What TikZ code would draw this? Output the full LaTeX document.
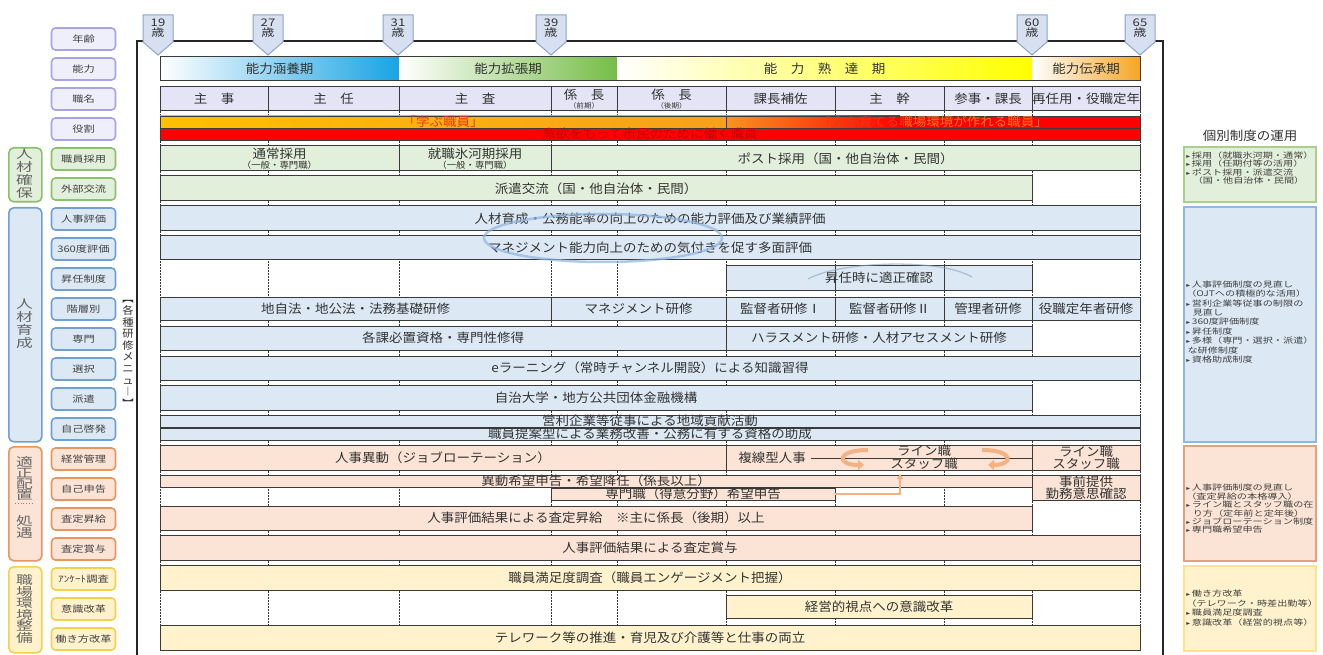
\documentclass[tikz,border=0pt]{standalone}
\usepackage{fontspec}
\setmainfont{Noto Sans CJK JP}
\newfontfamily\jpA[FakeStretch=1.08]{Noto Sans CJK JP}
\newfontfamily\dvsans{DejaVu Sans}
\usetikzlibrary{arrows.meta}
\newcommand\fMain{\jpA\fontsize{12.5}{14}\selectfont}
\newcommand\fSm{\jpA\fontsize{8.7}{9.5}\selectfont}
\newcommand\fTiny{\jpA\fontsize{7}{8}\selectfont}
\newcommand\fLab{\rmfamily\fontsize{9}{10}\selectfont}
\newcommand\fGrp{\rmfamily\fontsize{12}{12.5}\selectfont}
\newcommand\fRp{\rmfamily\fontsize{7.8}{9.4}\selectfont}
\newcommand\fAge{\rmfamily\fontsize{10.5}{10.5}\selectfont}
\newcommand\bul{{\dvsans\fontsize{6}{7}\selectfont ▸}\,}
\newcommand\bx[7]{\node[#6,anchor=north west,minimum width={(#4-#2)*1pt},minimum height={(#5-#3)*1pt}] (#1) at (#2,#3) {#7};}
\newcommand\sxn[5]{\begin{scope}[shift={#2}]\node[#3,xscale=#4,transform shape] (#1) at (0,0) {#5};\end{scope}}
\newcommand\lbl[5]{\node[lab,draw=#2,fill=#3] (#1) at (83.5,#4) {};\sxn{#1t}{(83.5,#4)}{ltxt}{1.25}{#5}}
\definecolor{txt}{HTML}{333333}
\definecolor{rowc}{HTML}{3A3A3A}
\definecolor{lav}{HTML}{E4E4F6}
\definecolor{gfill}{HTML}{E2EFDA}
\definecolor{bfill}{HTML}{DCE9F5}
\definecolor{ofill}{HTML}{FBE4D6}
\definecolor{yfill}{HTML}{FFF2CC}
\definecolor{pbord}{HTML}{A9A3E6}
\definecolor{pfill}{HTML}{EFEFFB}
\definecolor{gbord}{HTML}{8DC06B}
\definecolor{bbord}{HTML}{6FA0D2}
\definecolor{obord}{HTML}{E8955E}
\definecolor{ybord}{HTML}{F5D04A}
\definecolor{mkfill}{HTML}{D6E0F0}
\definecolor{mkbord}{HTML}{8CA4CC}
\definecolor{oarr}{HTML}{F4B183}
\definecolor{abBlue}{HTML}{19A3E3}
\definecolor{abGreen}{HTML}{76BD48}
\definecolor{abYellow}{HTML}{FFFF00}
\definecolor{abOrange}{HTML}{F5A524}
\definecolor{roY}{HTML}{FFC000}
\definecolor{roO}{HTML}{F7A01C}
\definecolor{roO2}{HTML}{F79420}
\definecolor{roRed}{HTML}{FF0000}
\definecolor{roT1}{HTML}{E8381A}
\definecolor{roT2}{HTML}{F47A20}
\definecolor{darkred}{HTML}{C00000}
\definecolor{ring}{HTML}{8DB3E2}
\definecolor{rgb}{HTML}{A9CF8E}
\definecolor{rbb}{HTML}{8FB7E0}
\definecolor{rob}{HTML}{E3A27A}
\definecolor{ryb}{HTML}{FFE38A}
\tikzset{
  rb/.style={draw=rowc,line width=1pt,inner sep=0pt,outer sep=0pt,align=center,font=\fMain,text=txt},
  nb/.style={draw=rowc,line width=0.7pt,inner sep=0pt,outer sep=0pt},
  ab/.style={draw=none,inner sep=0pt,outer sep=0pt,font=\fMain,text=txt},
  rt/.style={inner sep=0pt,font=\fMain},
  ttxt/.style={inner sep=0pt,font=\fMain,text=txt,align=center},
  rowline/.style={draw=rowc,line width=1pt},
  gridl/.style={draw=black!80,line width=0.7pt,dash pattern=on 2pt off 1pt},
  lab/.style={rounded corners=4pt,line width=1.6pt,minimum width=64pt,minimum height=22pt,inner sep=0pt},
  ltxt/.style={inner sep=0pt,font=\fLab,text=black!75},
  grp/.style={rounded corners=5pt,line width=1.6pt,inner sep=0pt},
  gtxt/.style={inner sep=0pt,align=center,font=\fGrp,text=black!60},
  rpb/.style={line width=1.6pt,inner sep=0pt},
  rptxt/.style={inner sep=0pt,font=\fRp,text=black!75,anchor=west,align=left},
  marker/.style={fill=mkfill,draw=mkbord,line width=1pt},
  agetxt/.style={inner sep=0pt,align=center,font=\fAge,text=black!80},
  oarrow/.style={draw=oarr,line width=4pt,-{Triangle[length=6pt,width=10pt]}},
  oline/.style={draw=oarr,line width=1.6pt,-{Triangle[length=5pt,width=6pt]}}
}
\begin{document}
\begin{tikzpicture}[x=1pt,y=-1pt]
\useasboundingbox (0,0) rectangle (1323,655);
\fill[white] (0,0) rectangle (1323,655);
% frame
\draw[line width=1.6pt,black!85] (137,655) -- (137,41) -- (1163,41) -- (1163,655);
% age markers
\foreach \cx/\age in {158/19,268/27,398/31,551/39,1032/60,1140/65}{
  \filldraw[marker] (\cx-15,15) -- (\cx+15,15) -- (\cx+15,42) -- (\cx,55) -- (\cx-15,42) -- cycle;
  \sxn{age\age}{(\cx,28)}{agetxt}{1.25}{\age\\歳}
}
% grid
\foreach \gx in {160,268,399,551,617,726,835,944,1032,1140}{
  \draw[gridl] (\gx,111) -- (\gx,650);
}
% ability row
\bx{a1}{160}{57}{399}{81}{ab,left color=white,right color=abBlue}{能力涵養期}
\bx{a2}{399}{57}{617}{81}{ab,left color=white,right color=abGreen}{能力拡張期}
\bx{a3}{617}{57}{1032}{81}{ab,left color=white,right color=abYellow}{能　力　熟　達　期}
\bx{a4}{1032}{57}{1140}{81}{ab,left color=white,right color=abOrange}{能力伝承期}
\draw[rowline] (a1.north west) rectangle (a4.south east);
% title row
\bx{t1}{160}{87}{268}{111}{rb,fill=lav}{主　事}
\bx{t2}{268}{87}{399}{111}{rb,fill=lav}{主　任}
\bx{t3}{399}{87}{551}{111}{rb,fill=lav}{主　査}
\bx{t4}{551}{87}{617}{111}{rb,fill=lav}{係　長\\[-5pt]{\fTiny（前期）}}
\bx{t5}{617}{87}{726}{111}{rb,fill=lav}{係　長\\[-5pt]{\fTiny（後期）}}
\bx{t6}{726}{87}{835}{111}{rb,fill=lav}{課長補佐}
\bx{t7}{835}{87}{944}{111}{rb,fill=lav}{主　幹}
\bx{t8}{944}{87}{1032}{111}{rb,fill=lav}{参事・課長}
\bx{t9}{1032}{87}{1140}{111}{rb,fill=lav}{再任用・役職定年}
% role rows
\bx{r1}{160}{116}{726}{128}{nb,left color=roY,right color=roO}{}
\bx{r2}{726}{116}{900}{128}{draw=none,inner sep=0pt,outer sep=0pt,left color=roO2,right color=roRed}{}
\bx{r2b}{900}{116}{1140}{128}{draw=none,inner sep=0pt,outer sep=0pt,fill=roRed}{}
\draw[draw=rowc,line width=0.7pt] (r2.north west) rectangle (r2b.south east);
\bx{r3}{160}{128}{1140}{140}{nb,fill=roRed}{}
\node[rt,text=roT1] (r1t) at (r1.center) {「学ぶ職員」};
\coordinate (r2c) at (933,122);
\begin{scope}
  \clip (726,110) rectangle (905,134);
  \node[rt,text=roT1] (r2ta) at (r2c) {「人を育てる職場環境が作れる職員」};
\end{scope}
\begin{scope}
  \clip (905,110) rectangle (1140,134);
  \node[rt,text=roT2] (r2tb) at (r2c) {「人を育てる職場環境が作れる職員」};
\end{scope}
\node[rt,text=darkred] (r3t) at (r3.center) {意欲をもって市民のために働く職員};
% hiring
\bx{h1}{160}{146}{399}{171}{rb,fill=gfill}{通常採用\\[-4pt]{\fSm（一般・専門職）}}
\bx{h2}{399}{146}{551}{171}{rb,fill=gfill}{就職氷河期採用\\[-4pt]{\fSm（一般・専門職）}}
\bx{h3}{551}{146}{1140}{171}{rb,fill=gfill}{ポスト採用（国・他自治体・民間）}
\bx{e1}{160}{176}{1032}{201}{rb,fill=gfill}{派遣交流（国・他自治体・民間）}
% evaluation
\bx{v1}{160}{206}{1140}{231}{rb,fill=bfill}{人材育成・公務能率の向上のための能力評価及び業績評価}
\bx{v2}{160}{236}{1140}{260}{rb,fill=bfill}{マネジメント能力向上のための気付きを促す多面評価}
\bx{p1}{726}{266}{1032}{290}{rb,fill=bfill}{昇任時に適正確認}
\draw[rowline] (835,266) -- (835,290);
\draw[rowline] (944,266) -- (944,290);
% training
\bx{k1}{160}{297}{551}{320}{rb,fill=bfill}{地自法・地公法・法務基礎研修}
\bx{k2}{551}{297}{726}{320}{rb,fill=bfill}{マネジメント研修}
\bx{k3}{726}{297}{835}{320}{rb,fill=bfill}{監督者研修Ⅰ}
\bx{k4}{835}{297}{944}{320}{rb,fill=bfill}{監督者研修Ⅱ}
\bx{k5}{944}{297}{1032}{320}{rb,fill=bfill}{管理者研修}
\bx{k6}{1032}{297}{1140}{320}{rb,fill=bfill}{役職定年者研修}
\bx{s1}{160}{326}{726}{350}{rb,fill=bfill}{各課必置資格・専門性修得}
\bx{s2}{726}{326}{1032}{350}{rb,fill=bfill}{ハラスメント研修・人材アセスメント研修}
\bx{s3}{160}{356}{1140}{380}{rb,fill=bfill}{eラーニング（常時チャンネル開設）による知識習得}
\bx{s4}{160}{385}{1032}{410}{rb,fill=bfill}{自治大学・地方公共団体金融機構}
\bx{s5}{160}{415}{1140}{427}{nb,fill=bfill}{}
\bx{s6}{160}{428}{1140}{440}{nb,fill=bfill}{}
\node[ttxt] (s5t) at (s5.center) {営利企業等従事による地域貢献活動};
\node[ttxt] (s6t) at (s6.center) {職員提案型による業務改善・公務に有する資格の助成};
% management
\bx{m1}{160}{445}{726}{470}{rb,fill=ofill}{人事異動（ジョブローテーション）}
\bx{m2}{726}{445}{1032}{470}{rb,fill=ofill}{}
\bx{m3}{1032}{445}{1140}{470}{rb,fill=ofill}{ライン職\\[-2pt]スタッフ職}
\node[ttxt] (fk) at (772,458) {複線型人事};
\draw[draw=rowc,line width=0.7pt] ([xshift=5pt]fk.east) -- (m2.east |- fk.east);
\node[ttxt] (lsA) at (924,451) {ライン職};
\node[ttxt] (lsB) at (924,464) {スタッフ職};
\draw[oarrow] (868,450) .. controls (836,450) and (836,465) .. (864,465);
\draw[oarrow] (982,450) .. controls (1014,450) and (1014,465) .. (988,465);
% declaration
\bx{d1}{160}{475}{1032}{487}{nb,fill=ofill}{}
\bx{d2}{551}{488}{835}{500}{nb,fill=ofill}{}
\node[ttxt] (d1t) at (d1.center) {異動希望申告・希望降任（係長以上）};
\node[ttxt] (d2t) at (d2.center) {専門職（得意分野）希望申告};
\bx{d3}{1032}{475}{1140}{500}{rb,fill=ofill}{事前提供\\[-2pt]勤務意思確認}
\coordinate (upT) at (900,474);
\draw[oline] (d2.east) -| (upT);
\bx{q1}{160}{506}{1032}{530}{rb,fill=ofill}{人事評価結果による査定昇給　※主に係長（後期）以上}
\bx{q2}{160}{535}{1140}{560}{rb,fill=ofill}{人事評価結果による査定賞与}
% workplace
\bx{w1}{160}{565}{1140}{590}{rb,fill=yfill}{職員満足度調査（職員エンゲージメント把握）}
\bx{w2}{726}{595}{1032}{618}{rb,fill=yfill}{経営的視点への意識改革}
\bx{w3}{160}{625}{1140}{650}{rb,fill=yfill}{テレワーク等の推進・育児及び介護等と仕事の両立}
% decorative rings
\draw[ring,line width=2.5pt,opacity=0.7] (603,238) ellipse [x radius=119, y radius=24];
\draw[ring!70!gray,line width=1.3pt,opacity=0.6] (808,279) .. controls (840,261) and (940,258) .. (972,277);
% training menu label
\node[inner sep=0pt,align=center,font=\jpA\fontsize{10.5}{11.6}\selectfont,text=black!80] (menu) at (128,354) {︻\\各\\種\\研\\修\\メ\\ニ\\ュ\\︱\\︼};
% left labels
\lbl{l01}{pbord}{pfill}{39}{年齢}
\lbl{l02}{pbord}{pfill}{69}{能力}
\lbl{l03}{pbord}{pfill}{99}{職名}
\lbl{l04}{pbord}{pfill}{129}{役割}
\lbl{l05}{gbord}{gfill}{159}{職員採用}
\lbl{l06}{gbord}{gfill}{189}{外部交流}
\lbl{l07}{bbord}{bfill}{219}{人事評価}
\lbl{l08}{bbord}{bfill}{249}{360度評価}
\lbl{l09}{bbord}{bfill}{279}{昇任制度}
\lbl{l10}{bbord}{bfill}{309}{階層別}
\lbl{l11}{bbord}{bfill}{339}{専門}
\lbl{l12}{bbord}{bfill}{369}{選択}
\lbl{l13}{bbord}{bfill}{399}{派遣}
\lbl{l14}{bbord}{bfill}{429}{自己啓発}
\lbl{l15}{obord}{ofill}{459}{経営管理}
\lbl{l16}{obord}{ofill}{489}{自己申告}
\lbl{l17}{obord}{ofill}{519}{査定昇給}
\lbl{l18}{obord}{ofill}{549}{査定賞与}
\lbl{l19}{ybord}{yfill}{579}{ｱﾝｹｰﾄ調査}
\lbl{l20}{ybord}{yfill}{609}{意識改革}
\lbl{l21}{ybord}{yfill}{639}{働き方改革}
% group labels
\bx{g1}{8}{147}{41}{201}{grp,draw=gbord,fill=gfill}{}
\bx{g2}{8}{207}{41}{441}{grp,draw=bbord,fill=bfill}{}
\bx{g3}{8}{446}{41}{560}{grp,draw=obord,fill=ofill}{}
\bx{g4}{8}{566}{41}{652}{grp,draw=ybord,fill=yfill}{}
\sxn{g1t}{(24.5,174)}{gtxt,font=\rmfamily\fontsize{12}{13}\selectfont}{1.4}{人\\材\\確\\保}
\sxn{g2t}{(24.5,324)}{gtxt,font=\rmfamily\fontsize{12}{13}\selectfont}{1.4}{人\\材\\育\\成}
\sxn{g3t}{(24.5,478)}{gtxt,font=\rmfamily\fontsize{12}{11}\selectfont}{1.4}{適\\正\\配\\置}
\draw[dotted,line width=0.8pt,obord!80!black] (15,503) -- (34,503);
\sxn{g3u}{(24.5,527)}{gtxt,font=\rmfamily\fontsize{12}{12}\selectfont}{1.4}{処\\遇}
\sxn{g4t}{(24.5,609)}{gtxt,font=\rmfamily\fontsize{12}{11.6}\selectfont}{1.4}{職\\場\\環\\境\\整\\備}
% right panel
\node[inner sep=0pt,font=\fMain,text=txt] (ttl) at (1250,136) {個別制度の運用};
\bx{rg}{1183}{146}{1315}{201}{rpb,draw=rgb,fill=gfill}{}
\bx{rbx}{1183}{206}{1315}{441}{rpb,draw=rbb,fill=bfill}{}
\bx{ro}{1183}{445}{1315}{560}{rpb,draw=rob,fill=ofill}{}
\bx{ry}{1183}{565}{1315}{650}{rpb,draw=ryb,fill=yfill}{}
\sxn{rgt}{(1186,168)}{rptxt,font=\rmfamily\fontsize{7.8}{8.2}\selectfont}{1.3}{\bul 採用（就職氷河期・通常）\\\bul 採用（任期付等の活用）\\\bul ポスト採用・派遣交流\\\hspace*{5pt}（国・他自治体・民間）}
\sxn{rbt}{(1186,322)}{rptxt}{1.3}{\bul 人事評価制度の見直し\\（OJTへの積極的な活用）\\\bul 営利企業等従事の制限の\\\hspace*{5pt}見直し\\\bul 360度評価制度\\\bul 昇任制度\\\bul 多様（専門・選択・派遣）\\\hspace*{1pt}な研修制度\\\bul 資格助成制度}
\sxn{rot}{(1186,509)}{rptxt,font=\rmfamily\fontsize{7.8}{8.4}\selectfont}{1.3}{\bul 人事評価制度の見直し\\（査定昇給の本格導入）\\\bul ライン職とスタッフ職の在\\\hspace*{5pt}り方（定年前と定年後）\\\bul ジョブローテーション制度\\\bul 専門職希望申告}
\sxn{ryt}{(1186,608)}{rptxt}{1.3}{\bul 働き方改革\\（テレワーク・時差出勤等）\\\bul 職員満足度調査\\\bul 意識改革（経営的視点等）}
\end{tikzpicture}
\end{document}
